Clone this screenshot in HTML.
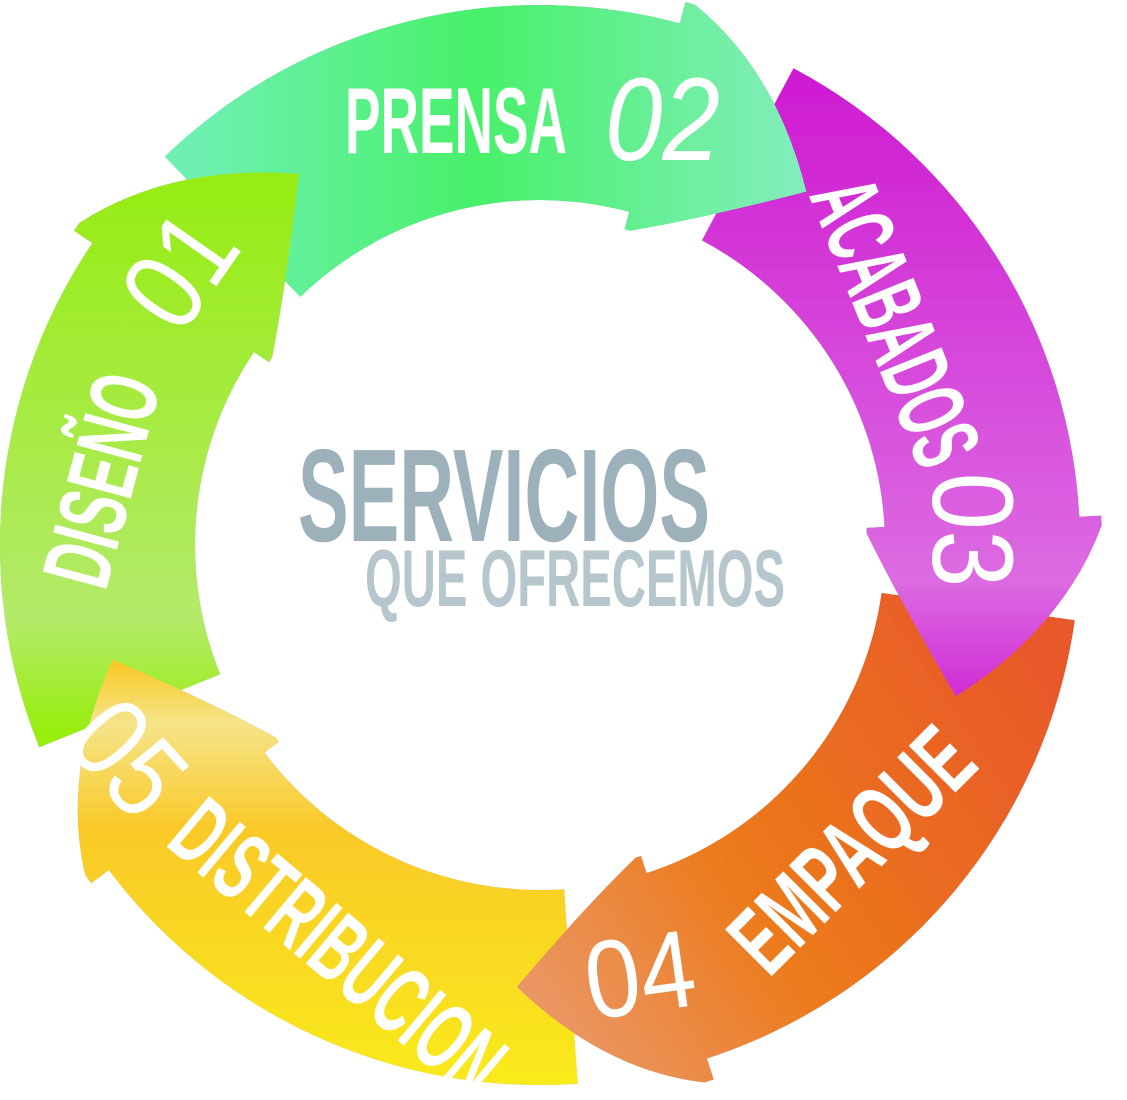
<!DOCTYPE html>
<html><head><meta charset="utf-8">
<style>
html,body{margin:0;padding:0;background:#fff;}
svg{display:block;}
text{font-family:"Liberation Sans",sans-serif;font-weight:bold;}
</style></head>
<body>
<svg id="s" width="1127" height="1100" viewBox="0 0 1127 1100" xmlns="http://www.w3.org/2000/svg">
<defs>
<filter id="sh" x="-20%" y="-20%" width="140%" height="140%"><feGaussianBlur in="SourceAlpha" stdDeviation="6"/><feOffset dx="10" dy="10"/><feComponentTransfer><feFuncA type="linear" slope="0.45"/></feComponentTransfer><feFlood flood-color="#5d7785"/><feComposite operator="in" in2="SourceAlpha"/><feMerge><feMergeNode/><feMergeNode in="SourceGraphic"/></feMerge></filter>
<linearGradient id="gL" gradientUnits="userSpaceOnUse" x1="0" y1="170" x2="0" y2="730"><stop offset="0" stop-color="#96ec12"/><stop offset="0.8" stop-color="#b4ea6a"/><stop offset="1" stop-color="#98ee10"/></linearGradient>
<linearGradient id="gP" gradientUnits="userSpaceOnUse" x1="200" y1="0" x2="820" y2="0"><stop offset="0" stop-color="#6ef0b0"/><stop offset="0.45" stop-color="#48f06a"/><stop offset="1" stop-color="#86eec0"/></linearGradient>
<linearGradient id="gA" gradientUnits="userSpaceOnUse" x1="0" y1="100" x2="0" y2="700"><stop offset="0" stop-color="#cf1fd2"/><stop offset="0.8" stop-color="#dc6be2"/><stop offset="1" stop-color="#cf2ad4"/></linearGradient>
<linearGradient id="gE" gradientUnits="userSpaceOnUse" x1="1040" y1="650" x2="520" y2="1000"><stop offset="0" stop-color="#e8582a"/><stop offset="0.6" stop-color="#ec7a1a"/><stop offset="1" stop-color="#ea9868"/></linearGradient>
<linearGradient id="gD" gradientUnits="userSpaceOnUse" x1="0" y1="660" x2="0" y2="1080"><stop offset="0" stop-color="#f8c820"/><stop offset="0.15" stop-color="#f6e48a"/><stop offset="0.4" stop-color="#f9c928"/><stop offset="1" stop-color="#f9ea1c"/></linearGradient>
</defs>
<g id="rings" filter="url(#sh)"></g>
<g fill="#fff">
<text x="345" y="153" font-size="94" textLength="222" lengthAdjust="spacingAndGlyphs">PRENSA</text>
<text x="605" y="160" font-size="118" font-style="italic" textLength="115" lengthAdjust="spacingAndGlyphs" style="font-weight:normal">02</text>
<text transform="translate(895,322) rotate(68)" text-anchor="middle" dominant-baseline="central" font-size="96" textLength="300" lengthAdjust="spacingAndGlyphs">ACABADOS</text>
<text transform="translate(972,530) rotate(90)" text-anchor="middle" dominant-baseline="central" font-size="115" textLength="115" lengthAdjust="spacingAndGlyphs" style="font-weight:normal">03</text>
<text transform="translate(852,850) rotate(-45)" text-anchor="middle" dominant-baseline="central" font-size="96" textLength="300" lengthAdjust="spacingAndGlyphs">EMPAQUE</text>
<text transform="translate(640,975) rotate(-8)" text-anchor="middle" dominant-baseline="central" font-size="110" textLength="110" lengthAdjust="spacingAndGlyphs" style="font-weight:normal">04</text>
<text transform="translate(338,948) rotate(40)" text-anchor="middle" dominant-baseline="central" font-size="96" textLength="400" lengthAdjust="spacingAndGlyphs">DISTRIBUCION</text>
<text transform="translate(128,758) rotate(48)" text-anchor="middle" dominant-baseline="central" font-size="115" textLength="110" lengthAdjust="spacingAndGlyphs" style="font-weight:normal">05</text>
<text transform="translate(102,480) rotate(-75)" text-anchor="middle" dominant-baseline="central" font-size="96" textLength="215" lengthAdjust="spacingAndGlyphs">DISEÑO</text>
<text transform="translate(180,270) rotate(-55)" text-anchor="middle" dominant-baseline="central" font-size="115" textLength="110" lengthAdjust="spacingAndGlyphs" style="font-weight:normal">01</text>
</g>
<text x="298" y="541" font-size="132" fill="#9db1ba" textLength="412" lengthAdjust="spacingAndGlyphs">SERVICIOS</text>
<text x="365" y="606" font-size="81" fill="#b5c6cd" textLength="420" lengthAdjust="spacingAndGlyphs">QUE OFRECEMOS</text>
</svg>
<script>
(function(){
var cx=540,cy=545,r1=345,r2=540,NS="http://www.w3.org/2000/svg";
function P(a,r){a=a*Math.PI/180;return (cx+r*Math.cos(a)).toFixed(1)+","+(cy+r*Math.sin(a)).toFixed(1);}
var A=[["gL",158,215,237],["gP",226,286,307],["gA",298,358,380],["gE",8,73,93],["gD",86,144,165]];
var g=document.getElementById("rings");
var bodies=[],heads=[];
A.forEach(function(x){
 var a0=x[1],a1=x[2],a2=x[3];
 var b="M"+P(a0,r2)+" A"+r2+" "+r2+" 0 0 1 "+P(a1,r2)+" L"+P(a1,r1)+" A"+r1+" "+r1+" 0 0 0 "+P(a0,r1)+" Z";
 var h="M"+P(a1-1,r2+22)+" L"+P(a1,r2+22)+" Q"+P((a1+a2)/2,r2-10)+" "+P(a2,(r1+r2)/2)+" Q"+P((a1+a2)/2,r1+20)+" "+P(a1,r1-18)+" L"+P(a1-1,r1-18)+" Z";
 bodies.push([x[0],b]);heads.push([x[0],h]);
});
bodies.concat(heads).forEach(function(p){var e=document.createElementNS(NS,"path");e.setAttribute("d",p[1]);e.setAttribute("fill","url(#"+p[0]+")");g.appendChild(e);});
})();
</script>
</body></html>
